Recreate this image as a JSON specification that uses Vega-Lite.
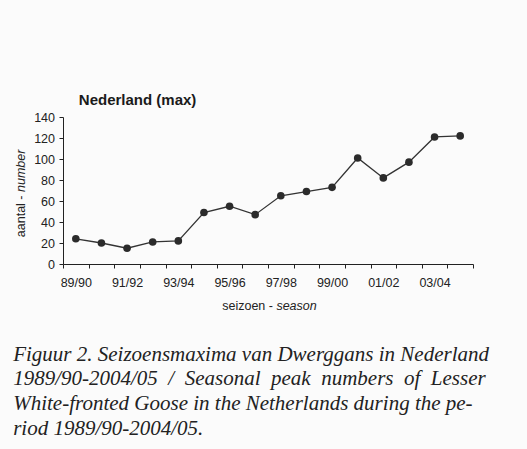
{
  "$schema": "https://vega.github.io/schema/vega-lite/v6.json",
  "width": 410,
  "height": 147,
  "autosize": "none",
  "padding": {"left": 63, "top": 117, "right": 54, "bottom": 185},
  "background": "#fbfbfb",
  "config": {"view": {"stroke": null}, "font": "Liberation Sans"},
  "data": {
    "values": [
      {"season": "89/90", "count": 24},
      {"season": "90/91", "count": 20},
      {"season": "91/92", "count": 15},
      {"season": "92/93", "count": 21},
      {"season": "93/94", "count": 22},
      {"season": "94/95", "count": 49},
      {"season": "95/96", "count": 55},
      {"season": "96/97", "count": 47},
      {"season": "97/98", "count": 65},
      {"season": "98/99", "count": 69},
      {"season": "99/00", "count": 73},
      {"season": "00/01", "count": 101},
      {"season": "01/02", "count": 82},
      {"season": "02/03", "count": 97},
      {"season": "03/04", "count": 121},
      {"season": "04/05", "count": 122}
    ]
  },
  "layer": [
    {
      "mark": {"type": "line", "color": "#333333", "strokeWidth": 1.3},
      "encoding": {
        "x": {
          "field": "season", "type": "ordinal", "sort": null,
          "scale": {"type": "band", "paddingInner": 0, "paddingOuter": 0},
          "axis": {
            "orient": "bottom", "grid": false,
            "title": "seizoen -", "titleFontWeight": "normal", "titleFontSize": 12.5,
            "titleAlign": "left", "titleBaseline": "alphabetic", "titleX": 158.7, "titleY": 45,
            "titleColor": "#222222",
            "labelExpr": "indexof(['89/90','91/92','93/94','95/96','97/98','99/00','01/02','03/04'], datum.value) >= 0 ? datum.label : ''",
            "labelAngle": 0, "labelFontSize": 12.5, "labelPadding": 8.5, "labelColor": "#222222",
            "tickSize": 4, "tickBand": "extent", "tickColor": "#222222", "domainColor": "#222222"
          }
        },
        "y": {
          "field": "count", "type": "quantitative",
          "scale": {"domain": [0, 140], "nice": false},
          "axis": {
            "orient": "left", "grid": false,
            "values": [0, 20, 40, 60, 80, 100, 120, 140],
            "title": "aantal -", "titleFontWeight": "normal", "titleFontSize": 12.5,
            "titleAngle": 270, "titleAlign": "left", "titleBaseline": "middle",
            "titleX": -43, "titleY": 119.7, "titleColor": "#222222",
            "labelFontSize": 12.5, "labelPadding": 4.5, "labelColor": "#222222",
            "tickSize": 4, "tickColor": "#222222", "domainColor": "#222222"
          }
        }
      }
    },
    {
      "mark": {"type": "point", "filled": true, "size": 58, "color": "#2b2b2b", "opacity": 1},
      "encoding": {
        "x": {"field": "season", "type": "ordinal", "sort": null, "axis": null},
        "y": {"field": "count", "type": "quantitative", "axis": null}
      }
    },
    {
      "mark": {"type": "point", "opacity": 0},
      "encoding": {
        "x": {
          "field": "season", "type": "ordinal", "sort": null,
          "axis": {
            "orient": "bottom", "grid": false, "labels": false, "ticks": false, "domain": false,
            "title": "season", "titleFontStyle": "italic", "titleFontWeight": "normal", "titleFontSize": 12.5,
            "titleAlign": "left", "titleBaseline": "alphabetic", "titleX": 212.9, "titleY": 45,
            "titleColor": "#222222"
          }
        },
        "y": {
          "field": "count", "type": "quantitative",
          "axis": {
            "orient": "left", "grid": false, "labels": false, "ticks": false, "domain": false,
            "title": "number", "titleFontStyle": "italic", "titleFontWeight": "normal", "titleFontSize": 12.5,
            "titleAngle": 270, "titleAlign": "left", "titleBaseline": "middle",
            "titleX": -43, "titleY": 74.5, "titleColor": "#222222"
          }
        }
      }
    },
    {
      "mark": {"type": "point", "opacity": 0},
      "encoding": {
        "x": {
          "field": "season", "type": "ordinal", "sort": null,
          "axis": {
            "orient": "top", "grid": false, "labels": false, "ticks": false, "domain": false,
            "title": "Nederland (max)", "titleFontWeight": "bold", "titleFontSize": 15,
            "titleAlign": "left", "titleBaseline": "alphabetic", "titleX": 15.3, "titleY": -13,
            "titleColor": "#1a1a1a"
          }
        },
        "y": {"field": "count", "type": "quantitative", "axis": null}
      }
    },
    {
      "mark": {"type": "point", "opacity": 0},
      "encoding": {
        "x": {
          "field": "season", "type": "ordinal", "sort": null,
          "axis": {
            "orient": "bottom", "grid": false, "labels": false, "ticks": false, "domain": false,
            "title": [
              "Figuur 2. Seizoensmaxima van Dwerggans in Nederland",
              "1989/90-2004/05 \u00a0/ \u00a0Seasonal \u00a0peak \u00a0numbers \u00a0of \u00a0Lesser",
              "White-fronted Goose in the Netherlands during the pe-",
              "riod 1989/90-2004/05."
            ],
            "titleFont": "Liberation Serif", "titleFontStyle": "italic", "titleFontWeight": "normal",
            "titleFontSize": 21, "titleLineHeight": 24.8,
            "titleAlign": "left", "titleBaseline": "alphabetic", "titleX": -50.3, "titleY": 96,
            "titleColor": "#222222"
          }
        },
        "y": {"field": "count", "type": "quantitative", "axis": null}
      }
    }
  ],
  "resolve": {"axis": {"x": "independent", "y": "independent"}}
}
